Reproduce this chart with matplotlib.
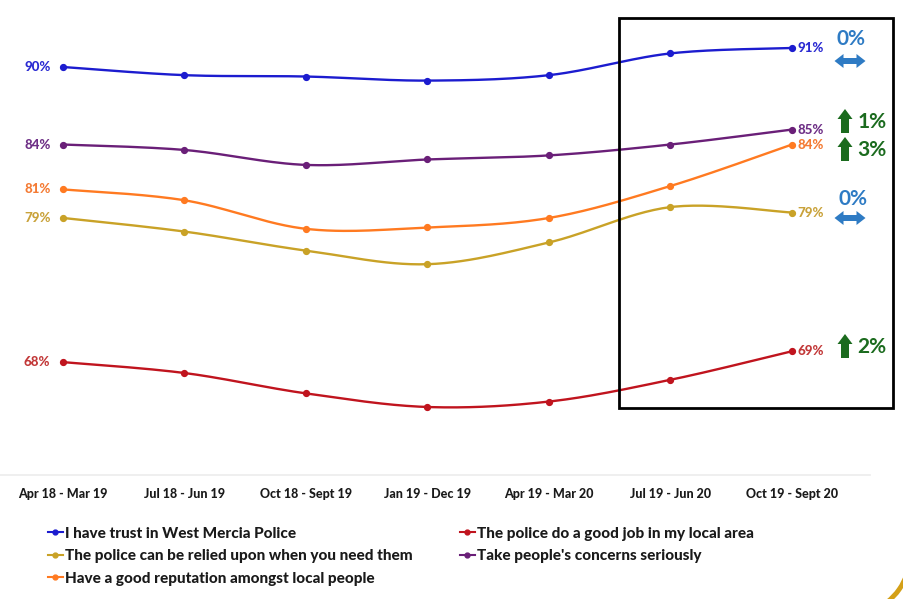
import numpy as np
import matplotlib
matplotlib.use("Agg")
import matplotlib.pyplot as plt
from matplotlib.patches import Rectangle, Polygon, Arc
from matplotlib.lines import Line2D

# ---------------- data ----------------
periods = ["Apr 18 - Mar 19", "Jul 18 - Jun 19", "Oct 18 - Sept 19", "Jan 19 - Dec 19",
           "Apr 19 - Mar 20", "Jul 19 - Jun 20", "Oct 19 - Sept 20"]
trust = [90.0, 89.4, 89.3, 89.0, 89.4, 91.0, 91.4]
good_job = [68.3, 67.5, 66.0, 65.0, 65.4, 67.0, 69.1]
relied = [78.9, 77.9, 76.5, 75.5, 77.1, 79.7, 79.3]
concerns = [84.3, 83.9, 82.8, 83.2, 83.5, 84.3, 85.4]
reputation = [81.0, 80.2, 78.1, 78.2, 78.9, 81.25, 84.3]

series_names = ["I have trust in West Mercia Police",
                "The police do a good job in my local area",
                "The police can be relied upon when you need them",
                "Take people's concerns seriously",
                "Have a good reputation amongst local people"]
start_labels = ["90%", "68%", "79%", "84%", "81%"]
end_labels = ["91%", "69%", "79%", "85%", "84%"]
changes = ["0%", "2%", "0%", "1%", "3%"]
change_dir = ["flat", "up", "flat", "up", "up"]

colors = ["#1c1ccf", "#c0141e", "#c9a227", "#6a1f78", "#ff7a21"]
label_colors = ["#2a2ad2", "#c23838", "#c9a23a", "#6e2f86", "#f47b34"]

all_series = [trust, good_job, relied, concerns, reputation]

W, H = 904, 599
fig = plt.figure(figsize=(W / 100, H / 100), dpi=100)
fig.patch.set_facecolor("white")

FONT = ["Lato", "DejaVu Sans"]
WGT = "black"

# main axes
ax_left_px, ax_right_px = 0, 870
ax_top_px, ax_bot_px = 10, 475
ax = fig.add_axes([ax_left_px / W, 1 - ax_bot_px / H,
                   (ax_right_px - ax_left_px) / W, (ax_bot_px - ax_top_px) / H])
ppu = (792 - 63) / 6.0
ax.set_xlim((ax_left_px - 63) / ppu, (ax_right_px - 63) / ppu)
pp_pct = 13.6
ax.set_ylim(90 - (ax_bot_px - 67) / pp_pct, 90 + (67 - ax_top_px) / pp_pct)


def smooth(xs, ys, n=30):
    P = np.column_stack([xs, ys]).astype(float)
    Pext = np.vstack([P[0], P, P[-1]])
    out = []
    for i in range(len(P) - 1):
        p0, p1, p2, p3 = Pext[i], Pext[i + 1], Pext[i + 2], Pext[i + 3]
        c1 = p1 + (p2 - p0) / 6.0
        c2 = p2 - (p3 - p1) / 6.0
        t = np.linspace(0, 1, n)[:, None]
        seg = ((1 - t) ** 3) * p1 + 3 * ((1 - t) ** 2) * t * c1 + 3 * (1 - t) * t ** 2 * c2 + t ** 3 * p2
        out.append(seg if i == 0 else seg[1:])
    return np.vstack(out)


x = np.arange(len(periods))
for ys, c, lc, sl, el in zip(all_series, colors, label_colors, start_labels, end_labels):
    curve = smooth(x, ys)
    ax.plot(curve[:, 0], curve[:, 1], color=c, lw=1.7, solid_capstyle="round", zorder=3)
    ax.plot(x, ys, "o", color=c, ms=4.2, zorder=4)
    ax.annotate(sl, (x[0], ys[0]), xytext=(-9, 0), textcoords="offset points",
                ha="right", va="center", color=lc, fontsize=9.5, fontweight=WGT, family=FONT)
    ax.annotate(el, (x[-1], ys[-1]), xytext=(4, 0), textcoords="offset points",
                ha="left", va="center", color=lc, fontsize=9.5, fontweight=WGT, family=FONT)

ax.set_xticks(x)
ax.set_xticklabels(periods, fontsize=9, fontweight=WGT, family=FONT, color="#1a1a1a")
ax.tick_params(axis="x", length=0, pad=9)
ax.set_yticks([])
for s in ["top", "left", "right"]:
    ax.spines[s].set_visible(False)
ax.spines["bottom"].set_color("#ececec")
ax.spines["bottom"].set_linewidth(1.2)
ax.set_facecolor("none")

# legend (row-wise order as in reference)
handles = [Line2D([], [], color=c, marker="o", ms=3.5, lw=1.5) for c in colors]
order = [0, 2, 4, 1, 3]
leg = fig.legend([handles[i] for i in order], [series_names[i] for i in order],
                 ncol=2, loc="upper left", bbox_to_anchor=(34 / W, 1 - 513 / H),
                 frameon=False, handlelength=1.0, handletextpad=0.12,
                 columnspacing=3.1, labelspacing=0.55,
                 prop={"family": FONT, "weight": WGT, "size": 11})
for t in leg.get_texts():
    t.set_color("#1a1a1a")

# overlay for annotations in pixel coordinates
ov = fig.add_axes([0, 0, 1, 1])
ov.set_xlim(0, W)
ov.set_ylim(H, 0)
ov.axis("off")
ov.patch.set_alpha(0)

ov.add_patch(Rectangle((619, 18), 893 - 619, 408 - 18, fill=False, ec="black", lw=2.0))

blue_ch = "#2e7bc4"
green_ch = "#1b6b1e"


def double_arrow(cx, cy, w=31, h=14, shaft=6, head=9):
    l, r = cx - w / 2, cx + w / 2
    pts = [(l, cy), (l + head, cy - h / 2), (l + head, cy - shaft / 2), (r - head, cy - shaft / 2),
           (r - head, cy - h / 2), (r, cy), (r - head, cy + h / 2), (r - head, cy + shaft / 2),
           (l + head, cy + shaft / 2), (l + head, cy + h / 2)]
    ov.add_patch(Polygon(pts, closed=True, fc=blue_ch, ec="none"))


def up_arrow(cx, cy, w=15, h=24, shaft=8, head=10):
    t, b = cy - h / 2, cy + h / 2
    pts = [(cx, t), (cx + w / 2, t + head), (cx + shaft / 2, t + head), (cx + shaft / 2, b),
           (cx - shaft / 2, b), (cx - shaft / 2, t + head), (cx - w / 2, t + head)]
    ov.add_patch(Polygon(pts, closed=True, fc=green_ch, ec="none"))


# change indicators (trust, good job, relied, concerns, reputation)
ind_pos = {0: (851, 39, 850, 61), 2: (853, 199, 850, 218),
           3: (872, 122, 845, 121), 4: (872, 150, 845, 149), 1: (872, 347, 845, 346)}
for i, (tx, ty, axx, ayy) in ind_pos.items():
    col = blue_ch if change_dir[i] == "flat" else green_ch
    ov.text(tx, ty, changes[i], ha="center", va="center", color=col,
            fontsize=15, fontweight="bold", family=FONT)
    if change_dir[i] == "flat":
        double_arrow(axx, ayy)
    else:
        up_arrow(axx, ayy)

# decorative gold arc at bottom-right corner
ov.add_patch(Arc((850, 555), 120, 120, theta1=18, theta2=52, color="#d4a017", lw=3.5))

fig.savefig("out.png", dpi=100, facecolor="white")
